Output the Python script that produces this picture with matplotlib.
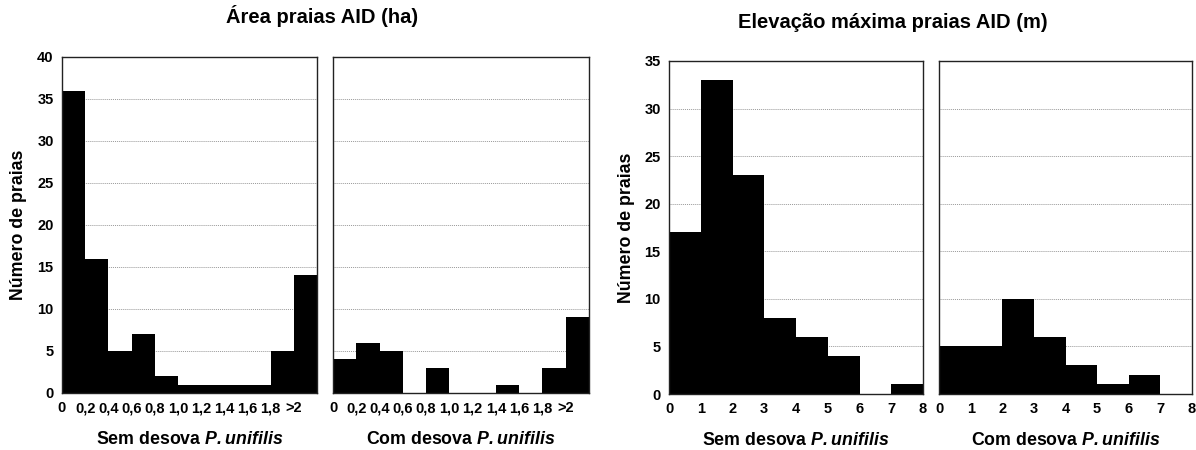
import matplotlib
matplotlib.use("Agg")
import matplotlib.pyplot as plt
import numpy as np
from matplotlib import font_manager

# ---- data ----
area_edges = [0, 0.2, 0.4, 0.6, 0.8, 1.0, 1.2, 1.4, 1.6, 1.8, 2.0, 2.2]
area_ticklabels = ["0", "0,2", "0,4", "0,6", "0,8", "1,0", "1,2", "1,4", "1,6", "1,8", ">2"]
area_sem = [36, 16, 5, 7, 2, 1, 1, 1, 1, 5, 14]
area_com = [4, 6, 5, 0, 3, 0, 0, 1, 0, 3, 9]

elev_edges = [0, 1, 2, 3, 4, 5, 6, 7, 8]
elev_ticklabels = ["0", "1", "2", "3", "4", "5", "6", "7", "8"]
elev_sem = [17, 33, 23, 8, 6, 4, 0, 1]
elev_com = [5, 5, 10, 6, 3, 1, 2, 0]

titles = ["Área praias AID (ha)", "Elevação máxima praias AID (m)"]
ylabel = "Número de praias"
xlab_sem = r"Sem desova $\mathbfit{P. unifilis}$"
xlab_com = r"Com desova $\mathbfit{P. unifilis}$"

avail = {f.name for f in font_manager.fontManager.ttflist}
tickfont = "Liberation Sans Narrow" if "Liberation Sans Narrow" in avail else "Liberation Sans"
plt.rcParams['font.family'] = ['Liberation Sans', 'DejaVu Sans']
plt.rcParams['mathtext.fontset'] = 'custom'
plt.rcParams['mathtext.bfit'] = 'Liberation Sans:bold:italic'
plt.rcParams['mathtext.rm'] = 'Liberation Sans'

W, H = 1196, 450
fig = plt.figure(figsize=(W / 100, H / 100), dpi=100)

def px_axes(x0, x1, y0, y1):
    return fig.add_axes([x0 / W, 1 - y1 / H, (x1 - x0) / W, (y1 - y0) / H])

def hist_panel(ax, edges, vals, labels, ymax, show_y):
    edges = np.asarray(edges, dtype=float)
    ax.stairs(vals, edges, fill=True, color='black', zorder=3, linewidth=0)
    ax.set_xlim(edges[0], edges[-1])
    ax.set_ylim(0, ymax)
    ax.set_yticks(np.arange(0, ymax + 1, 5))
    ax.yaxis.grid(True, linestyle=(0, (1, 1)), color='#999999', linewidth=0.7, zorder=0)
    ax.set_xticks(edges[:len(labels)])
    ax.set_xticklabels(labels, fontfamily=tickfont, fontweight='bold', fontsize=10.5)
    ax.tick_params(axis='both', length=0, pad=6)
    if show_y:
        for t in ax.get_yticklabels():
            t.set_fontfamily(tickfont)
            t.set_fontweight('bold')
            t.set_fontsize(10.5)
    else:
        ax.set_yticklabels([])
    for s in ax.spines.values():
        s.set_linewidth(1.0)
        s.set_color('#222222')
        s.set_zorder(4)

a1 = px_axes(62, 317, 57, 393)
a2 = px_axes(333, 589, 57, 393)
e1 = px_axes(669, 923, 61, 394)
e2 = px_axes(939, 1192, 61, 394)

hist_panel(a1, area_edges, area_sem, area_ticklabels, 40, True)
hist_panel(a2, area_edges, area_com, area_ticklabels, 40, False)
hist_panel(e1, elev_edges, elev_sem, elev_ticklabels, 35, True)
hist_panel(e2, elev_edges, elev_com, elev_ticklabels, 35, False)

a1.set_ylabel(ylabel, fontsize=12.8, fontweight='bold', labelpad=7)
e1.set_ylabel(ylabel, fontsize=12.8, fontweight='bold', labelpad=7)

for ax, lab in [(a1, xlab_sem), (a2, xlab_com), (e1, xlab_sem), (e2, xlab_com)]:
    ax.set_xlabel(lab, fontsize=12.8, fontweight='bold', labelpad=11)

fig.text(322 / W, 1 - 16 / H, titles[0], ha='center', va='center',
         fontsize=14.5, fontweight='bold')
fig.text(893 / W, 1 - 22 / H, titles[1], ha='center', va='center',
         fontsize=14.5, fontweight='bold')

fig.savefig("out.png", dpi=100, facecolor='white')
